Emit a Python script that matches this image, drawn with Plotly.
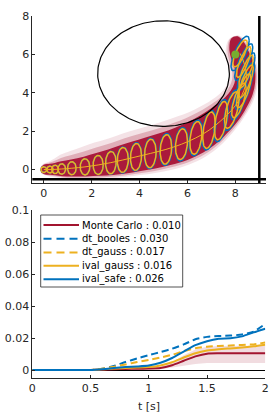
import numpy as np
import plotly.graph_objects as go

# ---------------- top panel: trajectory, uncertainty ellipses ----------------
path_x = [0.0, 0.26, 0.47, 0.75, 1.17, 1.72, 2.27, 2.8, 3.3, 3.85, 4.45, 5.1,
          5.75, 6.35, 6.9, 7.4, 7.85, 8.15, 8.35, 8.45, 8.45, 8.35, 8.2]
path_y = [0.0, 0.0, 0.01, 0.03, 0.07, 0.14, 0.24, 0.36, 0.5, 0.66, 0.84, 1.05,
          1.32, 1.65, 2.05, 2.55, 3.1, 3.6, 4.1, 4.6, 5.1, 5.6, 6.05]
gauss_sx = [0.12, 0.13, 0.14, 0.16, 0.18, 0.2, 0.21, 0.22, 0.23, 0.23, 0.24, 0.24,
            0.25, 0.25, 0.26, 0.27, 0.3, 0.3, 0.3, 0.3, 0.3, 0.3, 0.3]
gauss_sy = [0.15, 0.18, 0.22, 0.27, 0.34, 0.42, 0.5, 0.58, 0.65, 0.7, 0.74, 0.77,
            0.8, 0.85, 0.95, 1.0, 0.95, 0.9, 0.88, 0.85, 0.85, 0.8, 0.7]
gauss_rho = [0, 0, 0, 0, 0, 0, 0, 0.05, 0.05, 0.1, 0.1, 0.15,
             0.2, 0.3, 0.4, 0.5, 0.6, 0.7, 0.75, 0.8, 0.8, 0.8, 0.75]
safe_sx = [0.12, 0.13, 0.14, 0.16, 0.18, 0.2, 0.21, 0.22, 0.24, 0.24, 0.25, 0.26,
           0.27, 0.28, 0.29, 0.3, 0.33, 0.34, 0.35, 0.36, 0.37, 0.38, 0.38]
safe_sy = [0.15, 0.18, 0.22, 0.27, 0.34, 0.42, 0.5, 0.6, 0.68, 0.74, 0.79, 0.83,
           0.87, 0.93, 1.03, 1.1, 1.06, 1.02, 1.0, 0.98, 0.98, 0.95, 0.9]

# Monte Carlo envelope around the mean path (offsets along the normal, x-units)
mc_x = [-0.12] + path_x + [8.08, 7.98]
mc_y = [0.0] + path_y + [6.5, 6.9]
mc_core_up = [0.1, 0.2, 0.24, 0.27, 0.32, 0.37, 0.43, 0.5, 0.56, 0.62, 0.66, 0.7, 0.72,
              0.74, 0.74, 0.72, 0.66, 0.58, 0.52, 0.48, 0.46, 0.45, 0.44, 0.42, 0.35, 0.15]
mc_core_dn = [0.1, 0.18, 0.22, 0.25, 0.3, 0.35, 0.4, 0.46, 0.52, 0.58, 0.62, 0.66, 0.68,
              0.7, 0.68, 0.62, 0.55, 0.48, 0.42, 0.4, 0.38, 0.38, 0.38, 0.36, 0.3, 0.12]
mc_fringe_up = [0.14, 0.25, 0.35, 0.45, 0.6, 0.72, 0.85, 0.95, 1.0, 1.05, 1.1, 1.12, 1.15,
                1.15, 1.1, 1.05, 0.95, 0.85, 0.78, 0.75, 0.72, 0.7, 0.68, 0.62, 0.5, 0.25]
mc_fringe_dn = [0.14, 0.22, 0.3, 0.33, 0.38, 0.45, 0.52, 0.6, 0.66, 0.72, 0.78, 0.84, 0.88,
                0.9, 0.88, 0.8, 0.7, 0.6, 0.55, 0.52, 0.5, 0.5, 0.5, 0.48, 0.4, 0.2]

obstacle_cx, obstacle_cy, obstacle_r = 5.0, 5.0, 2.75
goal_x, goal_y = [8.0], [6.0]
wall_x, wall_y = 9.0, -0.5

# ---------------- bottom panel: error over time ----------------
t = [0.0, 0.1, 0.2, 0.3, 0.4, 0.5, 0.6, 0.7, 0.8, 0.9, 1.0,
     1.1, 1.2, 1.3, 1.4, 1.5, 1.6, 1.7, 1.8, 1.9, 2.0]
mc_err = [0, 0, 0, 0, 0, 0, 0.0002, 0.0005, 0.0007, 0.0008, 0.0009,
          0.0012, 0.003, 0.0058, 0.0085, 0.0102, 0.0104, 0.0104, 0.0104, 0.0104, 0.0104]
mc_lo = [0, 0, 0, 0, 0, 0, 0, 0, 0, 0, 0,
         0.0005, 0.0015, 0.0028, 0.0038, 0.0043, 0.0043, 0.0043, 0.0043, 0.0043, 0.0043]
mc_hi = [0, 0, 0, 0, 0, 0, 0.0003, 0.0007, 0.001, 0.0012, 0.0014,
         0.002, 0.0048, 0.0092, 0.0128, 0.0145, 0.015, 0.0152, 0.0152, 0.0152, 0.0152]
dt_booles = [0, 0, 0, 0, 0, 0, 0.0008, 0.0025, 0.005, 0.0072, 0.0093,
             0.0112, 0.0133, 0.016, 0.0192, 0.0207, 0.0212, 0.0215, 0.0222, 0.024, 0.0288]
dt_gauss = [0, 0, 0, 0, 0, 0, 0.0008, 0.002, 0.0035, 0.005, 0.0063,
            0.0078, 0.0095, 0.0118, 0.0136, 0.0146, 0.015, 0.0153, 0.0157, 0.016, 0.0172]
ival_gauss = [0, 0, 0, 0, 0, 0, 0.0004, 0.001, 0.0013, 0.0015, 0.0018,
              0.0028, 0.0048, 0.0078, 0.0105, 0.0122, 0.013, 0.0135, 0.014, 0.0148, 0.0158]
ival_safe = [0, 0, 0, 0, 0, 0, 0.0005, 0.0012, 0.0018, 0.0022, 0.0028,
             0.0045, 0.0075, 0.0115, 0.0155, 0.018, 0.0195, 0.0198, 0.021, 0.0235, 0.0258]
names = ["Monte Carlo : 0.010", "dt_booles : 0.030", "dt_gauss : 0.017",
         "ival_gauss : 0.016", "ival_safe : 0.026"]

RED = "#A2142F"
BLUE = "#0072BD"
ORANGE = "#EDB120"
GREEN = "#77AC30"
TXT = "#262626"
DASH = "7px,4px"


def ellipses(cx, cy, sx, sy, rho, n=64):
    th = np.linspace(0, 2 * np.pi, n)
    xs, ys = [], []
    for a, b, c, d, r in zip(cx, cy, sx, sy, rho):
        xs += list(a + c * np.cos(th)) + [None]
        ys += list(b + d * (r * np.cos(th) + np.sqrt(1 - r * r) * np.sin(th))) + [None]
    return xs, ys


def band(xs, ys, up, dn, ys_scale=0.8):
    x = np.array(xs, float)
    y = np.array(ys, float) * ys_scale
    dx, dy = np.gradient(x), np.gradient(y)
    n = np.hypot(dx, dy)
    nx, ny = -dy / n, dx / n
    up, dn = np.array(up), np.array(dn)
    ux, uy = x + nx * up, (y + ny * up) / ys_scale
    lx, ly = x - nx * dn, (y - ny * dn) / ys_scale
    return list(ux) + list(lx[::-1]), list(uy) + list(ly[::-1])


fig = go.Figure()
top = dict(xaxis="x", yaxis="y", showlegend=False, hoverinfo="skip")

# Monte Carlo samples envelope
fx, fy = band(mc_x, mc_y, mc_fringe_up, mc_fringe_dn)
fig.add_trace(go.Scatter(x=fx, y=fy, fill="toself", fillcolor="rgba(162,20,47,0.12)",
                         line=dict(width=0, shape="spline"), mode="lines", **top))
mid_up = [(a + b) / 2 for a, b in zip(mc_core_up, mc_fringe_up)]
mid_dn = [(a + b) / 2 for a, b in zip(mc_core_dn, mc_fringe_dn)]
mx, my = band(mc_x, mc_y, mid_up, mid_dn)
fig.add_trace(go.Scatter(x=mx, y=my, fill="toself", fillcolor="rgba(162,20,47,0.25)",
                         line=dict(width=0, shape="spline"), mode="lines", **top))
cx_, cy_ = band(mc_x, mc_y, mc_core_up, mc_core_dn)
fig.add_trace(go.Scatter(x=cx_, y=cy_, fill="toself", fillcolor="#AA1A3C",
                         line=dict(width=0, shape="spline"), mode="lines", **top))

# ellipses: ival_safe (blue) under ival_gauss (orange)
ex, ey = ellipses(path_x, path_y, safe_sx, safe_sy, gauss_rho)
fig.add_trace(go.Scatter(x=ex, y=ey, mode="lines", line=dict(color=BLUE, width=1.5), **top))
ex, ey = ellipses(path_x, path_y, gauss_sx, gauss_sy, gauss_rho)
fig.add_trace(go.Scatter(x=ex, y=ey, mode="lines", line=dict(color=ORANGE, width=1.5), **top))
fig.add_trace(go.Scatter(x=path_x, y=path_y, mode="lines",
                         line=dict(color=ORANGE, width=1, shape="spline"), **top))

# obstacle
th = np.linspace(0, 2 * np.pi, 200)
fig.add_trace(go.Scatter(x=obstacle_cx + obstacle_r * np.cos(th), y=obstacle_cy + obstacle_r * np.sin(th),
                         mode="lines", line=dict(color="black", width=1.2), **top))
# goal
fig.add_trace(go.Scatter(x=goal_x, y=goal_y, mode="markers", marker=dict(color=GREEN, size=8), **top))
# walls
fig.add_trace(go.Scatter(x=[-1, 10], y=[wall_y, wall_y], mode="lines",
                         line=dict(color="black", width=2.5), **top))
fig.add_trace(go.Scatter(x=[wall_x, wall_x], y=[-1, 9], mode="lines",
                         line=dict(color="black", width=2.5), **top))

# ---------------- bottom panel traces ----------------
fig.add_trace(go.Scatter(x=t + t[::-1], y=mc_hi + mc_lo[::-1], fill="toself",
                         fillcolor="rgba(162,20,47,0.15)", line=dict(width=0), mode="lines",
                         showlegend=False, hoverinfo="skip", xaxis="x2", yaxis="y2"))
series = [
    (mc_err, RED, "solid"),
    (dt_booles, BLUE, DASH),
    (dt_gauss, ORANGE, DASH),
    (ival_gauss, ORANGE, "solid"),
    (ival_safe, BLUE, "solid"),
]
for (vals, col, dash), nm in zip(series, names):
    fig.add_trace(go.Scatter(x=t, y=vals, mode="lines", name=nm, showlegend=False,
                             line=dict(color=col, width=2, dash=dash, shape="spline", smoothing=0.6),
                             xaxis="x2", yaxis="y2"))

W, H = 269, 413

# legend drawn as a box with line samples and labels (paper pixels)
shapes, annots = [], []
LX0, LX1, LY0, LY1 = 40.7, 182.7, 215, 287
shapes.append(dict(type="rect", xref="paper", yref="paper", x0=LX0 / W, x1=LX1 / W,
                   y0=1 - LY1 / H, y1=1 - LY0 / H, line=dict(color=TXT, width=0.8),
                   fillcolor="white", layer="above"))
row_y = [225, 238.8, 252.4, 265.8, 279.2]
for (vals, col, dash), nm, ry in zip(series, names, row_y):
    shapes.append(dict(type="line", xref="paper", yref="paper", x0=43.5 / W, x1=79 / W,
                       y0=1 - ry / H, y1=1 - ry / H, layer="above",
                       line=dict(color=col, width=2, dash=("8px,5px" if dash != "solid" else "solid"))))
    annots.append(dict(xref="paper", yref="paper", x=80 / W, y=1 - ry / H, text=nm,
                       showarrow=False, xanchor="left", yanchor="middle",
                       font=dict(family="DejaVu Sans", size=10, color="black")))
annots.append(dict(xref="paper", yref="paper", x=148.8 / W, y=1 - 406.5 / H, text="t [s]",
                   showarrow=False, xanchor="center", yanchor="middle",
                   font=dict(family="DejaVu Sans", size=11, color=TXT)))

axfont = dict(family="DejaVu Sans", size=11, color=TXT)
common = dict(showline=True, linecolor=TXT, linewidth=0.8, ticks="inside", ticklen=3,
              tickcolor=TXT, tickfont=axfont, showgrid=False, mirror=False, automargin=False)

fig.update_layout(
    width=W, height=H, margin=dict(l=0, r=0, t=0, b=0, pad=0),
    paper_bgcolor="white", plot_bgcolor="white",
    font=dict(family="DejaVu Sans", color=TXT),
    showlegend=False,
    xaxis=dict(domain=[32.3 / W, 266 / W], range=[-0.48, 9.28], tickvals=[0, 2, 4, 6, 8],
               zeroline=False, anchor="y", **common),
    yaxis=dict(domain=[(H - 183) / H, (H - 16) / H], range=[-0.7, 8], tickvals=[0, 2, 4, 6, 8],
               zeroline=False, anchor="x", **common),
    xaxis2=dict(domain=[32.3 / W, 265.3 / W], range=[0, 2], tickvals=[0, 0.5, 1, 1.5, 2],
                ticktext=["0", "0.5", "1", "1.5", "2"], zeroline=False, anchor="y2", **common),
    yaxis2=dict(domain=[(H - 378) / H, (H - 210) / H], range=[-0.005, 0.1],
                tickvals=[0, 0.02, 0.04, 0.06, 0.08, 0.1],
                ticktext=["0", "0.02", "0.04", "0.06", "0.08", "0.1"],
                zeroline=True, zerolinecolor="black", zerolinewidth=1, anchor="x2", **common),
    shapes=shapes, annotations=annots,
)

fig.write_html("out.html", config={"displayModeBar": False},
               post_script="document.body.style.margin='0';document.body.style.padding='0';"
                           "document.documentElement.style.overflow='hidden';")
